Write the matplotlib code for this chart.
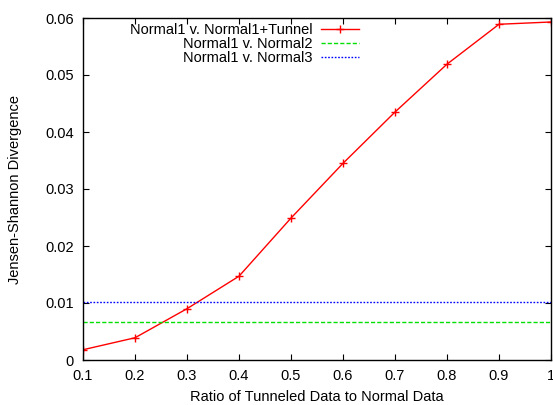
import numpy as np
import matplotlib
matplotlib.use("Agg")
import matplotlib.pyplot as plt

plt.rcParams['font.family'] = ['Liberation Sans', 'DejaVu Sans']
plt.rcParams['font.size'] = 10.5

# data
ratios = [0.1, 0.2, 0.3, 0.4, 0.5, 0.6, 0.7, 0.8, 0.9, 1.0]
jsd_tunnel = [0.0018, 0.0039, 0.0090, 0.0147, 0.0249, 0.0345, 0.0435, 0.0519, 0.0589, 0.0593]
jsd_normal2 = 0.0066
jsd_normal3 = 0.0101

labels = ["Normal1 v. Normal1+Tunnel", "Normal1 v. Normal2", "Normal1 v. Normal3"]
xticks = [0.1, 0.2, 0.3, 0.4, 0.5, 0.6, 0.7, 0.8, 0.9, 1.0]
xticklabels = ["0.1", "0.2", "0.3", "0.4", "0.5", "0.6", "0.7", "0.8", "0.9", "1"]
yticks = [0, 0.01, 0.02, 0.03, 0.04, 0.05, 0.06]
yticklabels = ["0", "0.01", "0.02", "0.03", "0.04", "0.05", "0.06"]

fig = plt.figure(figsize=(5.53, 4.05), dpi=100)
ax = fig.add_axes([83/553, 45/405, 468/553, 342/405])

ax.plot(ratios, jsd_tunnel, color="#ff0000", lw=1.0, marker="+", ms=6, mew=1.0, label=labels[0])
ax.axhline(jsd_normal2, color="#00e000", lw=1.0, ls=(0, (3, 1.5)), label=labels[1])
ax.axhline(jsd_normal3, color="#0000ff", lw=1.0, ls=(0, (1.2, 1.2)), label=labels[2])

ax.set_xlim(0.1, 1.0)
ax.set_ylim(0, 0.06)
ax.set_xticks(xticks)
ax.set_xticklabels(xticklabels)
ax.set_yticks(yticks)
ax.set_yticklabels(yticklabels)
ax.tick_params(direction="in", top=True, right=True, length=4, width=0.8, pad=6.5)
for s in ax.spines.values():
    s.set_linewidth(1.0)

ax.set_xlabel("Ratio of Tunneled Data to Normal Data", labelpad=5)
ax.set_ylabel("Jensen-Shannon Divergence", labelpad=17)

ax.legend(loc="upper right", bbox_to_anchor=((359-83)/468, 1-5/342), frameon=False,
          markerfirst=False, handlelength=2.6, handletextpad=0.6, labelspacing=0.0,
          borderpad=0, borderaxespad=0)

fig.savefig("out.png", dpi=100)
